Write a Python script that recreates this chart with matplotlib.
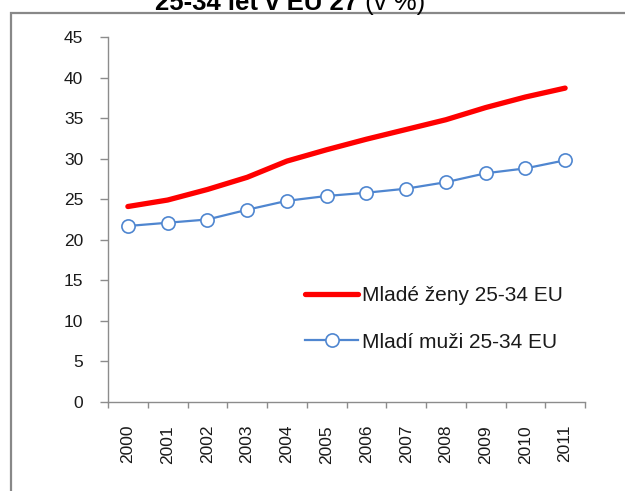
import matplotlib
matplotlib.use("Agg")
import matplotlib.pyplot as plt
from matplotlib.patches import Rectangle
import numpy as np

years = ["2000", "2001", "2002", "2003", "2004", "2005",
         "2006", "2007", "2008", "2009", "2010", "2011"]
women = [24.1, 24.9, 26.2, 27.7, 29.7, 31.1, 32.4, 33.6, 34.8, 36.3, 37.6, 38.7]
men = [21.7, 22.1, 22.5, 23.7, 24.8, 25.4, 25.8, 26.3, 27.1, 28.2, 28.8, 29.8]
label_women = "Mladé ženy 25-34 EU"
label_men = "Mladí muži 25-34 EU"
title_bold = "25-34 let v EU 27"
title_normal = " (v %)"
yticks = [0, 5, 10, 15, 20, 25, 30, 35, 40, 45]

plt.rcParams['font.family'] = ['Liberation Sans', 'DejaVu Sans']

W, H = 625, 491
fig = plt.figure(figsize=(W / 100, H / 100), dpi=100)
ax = fig.add_axes([108 / W, 1 - 402 / H, (585 - 108) / W, (402 - 37) / H])

x = np.arange(len(years))
ax.plot(x, women, color='#FF0000', lw=3.8, solid_joinstyle='round',
        solid_capstyle='round', label=label_women, zorder=3)
ax.plot(x, men, color='#4F86D0', lw=1.6, marker='o', markersize=9.5,
        markerfacecolor='white', markeredgecolor='#4F86D0', markeredgewidth=1.2,
        label=label_men, zorder=3)

ax.set_xlim(-0.5, len(years) - 0.5)
ax.set_ylim(0, 45)
ax.set_yticks(yticks)
ax.set_yticklabels([str(v) for v in yticks])

ax.set_xticks(np.arange(len(years) + 1) - 0.5)
ax.set_xticklabels([])
ax.set_xticks(x, minor=True)
ax.set_xticklabels(years, minor=True, rotation=90)

for s in ['top', 'right']:
    ax.spines[s].set_visible(False)
for s in ['left', 'bottom']:
    ax.spines[s].set_color('#8C8C8C')
    ax.spines[s].set_linewidth(1.0)

ax.tick_params(axis='y', which='major', length=5.8, width=1.0, color='#8C8C8C',
               pad=12, labelsize=12.5, labelcolor='#1A1A1A')
ax.tick_params(axis='x', which='major', length=4.3, width=1.0, color='#8C8C8C')
ax.tick_params(axis='x', which='minor', length=0, pad=16.5, labelsize=12.5,
               labelcolor='#1A1A1A')

leg = ax.legend(loc='center left', bbox_to_anchor=(305 / W, 1 - 319 / H),
                bbox_transform=fig.transFigure, frameon=False, fontsize=15,
                handlelength=2.55, handletextpad=0.2, labelspacing=1.3,
                borderpad=0, borderaxespad=0)
for t in leg.get_texts():
    t.set_color('#1A1A1A')

# outer border (extends beyond right/bottom edges)
fig.add_artist(Rectangle((11 / W, -0.2), 1.2, 1.2 - 12.7 / H,
                         transform=fig.transFigure, fill=False,
                         edgecolor='#888888', lw=1.6, clip_on=False))

# title (partially cut off at top, as in the reference)
tb = fig.text(155 / W, 1 - 10 / H, title_bold, fontsize=18.5, fontweight='bold',
              ha='left', va='baseline', color='#000000')
fig.canvas.draw()
bb = tb.get_window_extent()
fig.text(bb.x1 / W, 1 - 10 / H, title_normal, fontsize=18.5,
         ha='left', va='baseline', color='#000000')

fig.savefig('out.png', dpi=100)
